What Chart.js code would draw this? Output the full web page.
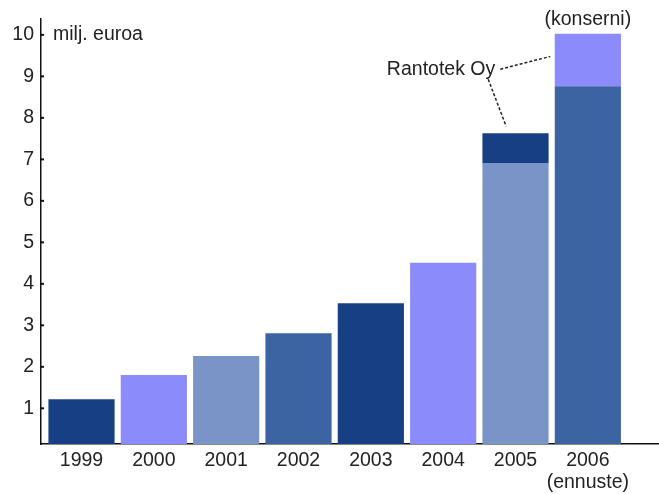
<!DOCTYPE html>
<html>
<head>
<meta charset="utf-8">
<script src="https://cdn.jsdelivr.net/npm/chart.js@4.4.1/dist/chart.umd.min.js"></script>
<style>
  html, body { margin: 0; padding: 0; background: #fff; }
  #wrap { width: 659px; height: 494px; position: relative; }
</style>
</head>
<body>
<div id="wrap"><canvas id="myChart"></canvas></div>
<script>
const years = ['1999', '2000', '2001', '2002', '2003', '2004', '2005', ['2006', '(ennuste)']];
const baseValues = [1.22, 1.80, 2.26, 2.81, 3.53, 4.51, 6.91, 8.76];
const rantotekValues = [0, 0, 0, 0, 0, 0, 0.72, 1.27];
const baseColors = ['#173f84', '#8b8bfb', '#7b94c8', '#3d64a2', '#173f84', '#8b8bfb', '#7b94c8', '#3d64a2'];
const topColors = ['#173f84', '#173f84', '#173f84', '#173f84', '#173f84', '#173f84', '#173f84', '#8b8bfb'];
const yTicks = [1, 2, 3, 4, 5, 6, 7, 8, 9, 10];

const FONT = 'Liberation Sans, Arial, sans-serif';
const FSIZE = 19.5;
const TEXT = '#222';

const annotations = {
  id: 'annotations',
  afterDraw(chart) {
    const ctx = chart.ctx;
    const xs = chart.scales.x, ys = chart.scales.y;
    const left = chart.chartArea.left;
    ctx.save();
    // small tick marks on the inside of the y axis
    ctx.fillStyle = '#111';
    yTicks.forEach(v => {
      const py = ys.getPixelForValue(v);
      ctx.fillRect(left, py - 1, 3, 2);
    });

    ctx.fillStyle = TEXT;
    ctx.font = FSIZE + 'px ' + FONT;
    ctx.textBaseline = 'middle';
    ctx.textAlign = 'left';
    ctx.fillText('milj. euroa', left + 12, ys.getPixelForValue(10));

    // (konserni) above the 2006 bar
    ctx.textAlign = 'center';
    const top06 = ys.getPixelForValue(baseValues[7] + rantotekValues[7]);
    ctx.fillText('(konserni)', xs.getPixelForValue(7), top06 - 14);

    // Rantotek Oy label with dashed leaders
    const lx = xs.getPixelForValue(5.72), ly = ys.getPixelForValue(9.17);
    ctx.textAlign = 'right';
    ctx.fillText('Rantotek Oy', lx, ly);

    ctx.strokeStyle = '#222';
    ctx.lineWidth = 1.5;
    ctx.setLineDash([3, 2]);
    ctx.beginPath();
    ctx.moveTo(lx + 5, ly);
    ctx.lineTo(xs.getPixelForValue(6.48), ys.getPixelForValue(9.48));
    ctx.moveTo(lx - 7, ly + 10);
    ctx.lineTo(xs.getPixelForValue(5.87), ys.getPixelForValue(7.8));
    ctx.stroke();
    ctx.restore();
  }
};

const ctx = document.getElementById('myChart');
new Chart(ctx, {
  type: 'bar',
  data: {
    datasets: [{
      label: 'base',
      data: baseValues.map((v, i) => ({ x: i, y: v })),
      backgroundColor: baseColors,
      borderWidth: 0,
      categoryPercentage: 1,
      barPercentage: 0.915
    }, {
      label: 'Rantotek Oy',
      data: rantotekValues.map((v, i) => ({ x: i, y: v })),
      backgroundColor: topColors,
      borderWidth: 0,
      categoryPercentage: 1,
      barPercentage: 0.915
    }]
  },
  options: {
    responsive: true,
    maintainAspectRatio: false,
    animation: false,
    layout: { padding: { top: 17, right: 1, left: 0, bottom: 0 } },
    plugins: {
      legend: { display: false },
      tooltip: { enabled: false }
    },
    scales: {
      x: {
        type: 'linear',
        stacked: true,
        offset: false,
        min: -0.56,
        max: 7.97,
        grid: { display: false, drawTicks: false, offset: false },
        border: { display: true, color: '#111', width: 1.5 },
        afterBuildTicks: (axis) => { axis.ticks = years.map((_, i) => ({ value: i })); },
        afterFit: (axis) => { axis.height = 50; },
        ticks: {
          autoSkip: false,
          maxRotation: 0,
          padding: 6,
          color: TEXT,
          font: { family: FONT, size: FSIZE, lineHeight: 1.13 },
          callback: (v) => years[v]
        }
      },
      y: {
        stacked: true,
        min: 0.14,
        max: 10.39,
        grid: { display: false, drawTicks: false },
        border: { display: true, color: '#111', width: 1.5 },
        afterBuildTicks: (axis) => { axis.ticks = yTicks.map(v => ({ value: v })); },
        afterFit: (axis) => { axis.width = 41; },
        ticks: {
          padding: 7,
          color: TEXT,
          font: { family: FONT, size: FSIZE }
        }
      }
    }
  },
  plugins: [annotations]
});
</script>
</body>
</html>
